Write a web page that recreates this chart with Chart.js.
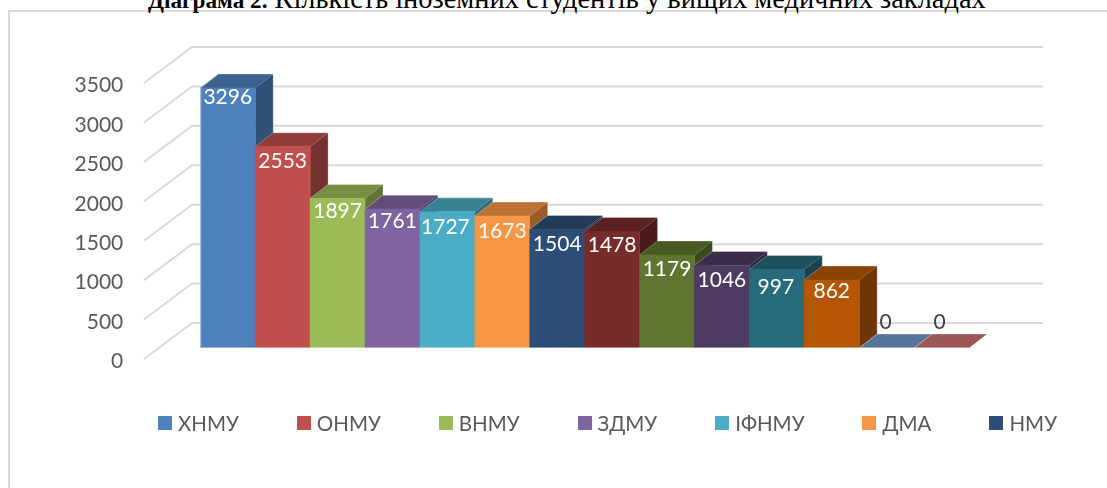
<!DOCTYPE html>
<html>
<head>
<meta charset="utf-8">
<title>Діаграма 2</title>
<script src="https://cdn.jsdelivr.net/npm/chart.js@4"></script>
<style>
  html, body { margin: 0; background: #fff; }
  body { position: relative; width: 1107px; height: 488px; overflow: hidden; }
  #frame { position: absolute; left: 8px; top: 10px; width: 1099px; height: 478px; border-left: 2px solid #d9d9d9; border-top: 2px solid #d9d9d9; box-sizing: border-box; }
  #caption { position: absolute; left: 148px; top: -17px; font: 28.4px "Liberation Serif", serif; color: #000; white-space: nowrap; }
  #caption b { font-size: 23.2px; }
  #chart { position: absolute; left: 0; top: 0; }
  #legend { position: absolute; left: 158px; top: 409px; display: flex; gap: 58px; font: 20.5px Lato, "Open Sans", sans-serif; color: #595959; line-height: 28px; white-space: nowrap; }
  #legend span { display: flex; align-items: center; }
  #legend i { display: block; width: 14px; height: 14px; margin-right: 6px; }
</style>
</head>
<body>
<div id="frame"></div>
<div id="caption"><b>Діаграма 2.</b> Кількість іноземних студентів у вищих медичних закладах</div>
<canvas id="chart" width="1107" height="488"></canvas>
<div id="legend"></div>
<script>
const categories = ['ХНМУ', 'ОНМУ', 'ВНМУ', 'ЗДМУ', 'ІФНМУ', 'ДМА', 'НМУ', '', '', '', '', '', '', ''];
const students = [3296, 2553, 1897, 1761, 1727, 1673, 1504, 1478, 1179, 1046, 997, 862, 0, 0];
const yTicks = [0, 500, 1000, 1500, 2000, 2500, 3000, 3500];
const colors = ['#4f81bd', '#c0504d', '#9bbb59', '#8064a2', '#4bacc6', '#f79646', '#2c4d75', '#772c2a', '#5f7530', '#4d3b62', '#276a7c', '#b65708', '#729aca', '#cd7371'];

// only the first 7 fit in the original legend
const legendCount = 7;

// 3d look: how far the bar depth and the back wall go from the front plane
const barDepth = { x: 18, y: -14 };
const wallFront = { x: 144, y: 11 };
const wallBack = { x: 192, y: -25 };
const wallRight = 1043;
const tickLabelDrop = 13.5;

// labels sit a bit unevenly in the original, px below the top of each bar (last two above it)
const labelDrop = [9.4, 15, 12.6, 12, 15, 15, 14.4, 13.6, 13.8, 14.6, 17.5, 11, -26, -26];
const labelShift = [0, 0, 0, 0, -2, 0, 0, 0, 0, 0, -1, 0, -1, -2];

const shade = (hex, k) => {
  const n = parseInt(hex.slice(1), 16);
  const r = Math.round((n >> 16) * k);
  const g = Math.round(((n >> 8) & 255) * k);
  const b = Math.round((n & 255) * k);
  return `rgb(${r},${g},${b})`;
};

const poly = (ctx, pts, fill) => {
  ctx.beginPath();
  pts.forEach((p, i) => i ? ctx.lineTo(p[0], p[1]) : ctx.moveTo(p[0], p[1]));
  ctx.closePath();
  ctx.fillStyle = fill;
  ctx.fill();
};

const wall3d = {
  id: 'wall3d',
  beforeDatasetsDraw(chart) {
    const ctx = chart.ctx;
    const y = chart.scales.y;
    ctx.save();
    ctx.strokeStyle = '#d9d9d9';
    ctx.lineWidth = 2;
    yTicks.forEach(v => {
      const py = y.getPixelForValue(v);
      ctx.beginPath();
      ctx.moveTo(wallFront.x, py + wallFront.y);
      ctx.lineTo(wallBack.x, py + wallBack.y);
      ctx.lineTo(wallRight, py + wallBack.y);
      ctx.stroke();
    });
    // side and top of the bars, fronts come from the bar dataset after this
    chart.getDatasetMeta(0).data.forEach((bar, i) => {
      const half = bar.width / 2;
      const l = bar.x - half, r = bar.x + half, t = bar.y, b = bar.base;
      const d = barDepth;
      if (b - t > 0) poly(ctx, [[r, t], [r + d.x, t + d.y], [r + d.x, b + d.y], [r, b]], shade(colors[i], 0.62));
      poly(ctx, [[l, t], [l + d.x, t + d.y], [r + d.x, t + d.y], [r, t]], shade(colors[i], 0.76));
      // pale rim round the back of the bar
      ctx.beginPath();
      ctx.moveTo(l, t);
      ctx.lineTo(l + d.x, t + d.y);
      ctx.lineTo(r + d.x, t + d.y);
      ctx.lineTo(r + d.x, (b - t > 0 ? b : t) + d.y);
      ctx.strokeStyle = 'rgba(255,255,255,0.3)';
      ctx.lineWidth = 1;
      ctx.stroke();
    });
    ctx.restore();
  }
};

const barLabels = {
  id: 'barLabels',
  afterDatasetsDraw(chart) {
    const ctx = chart.ctx;
    const bars = chart.getDatasetMeta(0).data;
    ctx.save();
    // pale rim along the foot of the row and the first bar
    ctx.strokeStyle = 'rgba(255,255,255,0.4)';
    ctx.lineWidth = 1;
    ctx.beginPath();
    ctx.moveTo(bars[0].x - bars[0].width / 2 + 0.5, bars[0].y);
    ctx.lineTo(bars[0].x - bars[0].width / 2 + 0.5, bars[0].base - 0.5);
    ctx.lineTo(bars[bars.length - 1].x + bars[0].width / 2, bars[0].base - 0.5);
    ctx.stroke();
    ctx.font = '21px Lato, "Open Sans", sans-serif';
    ctx.textAlign = 'center';
    ctx.textBaseline = 'middle';
    bars.forEach((bar, i) => {
      const v = students[i];
      ctx.fillStyle = v ? '#fff' : '#404040';
      ctx.fillText(v, bar.x + labelShift[i], bar.y + labelDrop[i]);
    });
    ctx.restore();
  }
};

new Chart(document.getElementById('chart'), {
  type: 'bar',
  data: {
    labels: categories,
    datasets: [{
      data: students,
      backgroundColor: colors,
      barPercentage: 1,
      categoryPercentage: 1
    }]
  },
  options: {
    responsive: false,
    animation: false,
    layout: { padding: { left: 0, top: 72, right: 138, bottom: 140 } },
    plugins: { legend: { display: false }, tooltip: { enabled: false } },
    scales: {
      x: { display: false },
      y: {
        min: 0,
        max: 3500,
        afterFit: s => { s.width = 200.3; s.paddingTop = 0; s.paddingBottom = 0; },
        afterBuildTicks: s => { s.ticks = yTicks.map(v => ({ value: v })); },
        grid: { display: false, drawTicks: false },
        border: { display: false },
        ticks: {
          padding: 77,
          labelOffset: tickLabelDrop,
          color: '#595959',
          font: { family: 'Lato, "Open Sans", sans-serif', size: 21 },
          callback: v => String(v)
        }
      }
    }
  },
  plugins: [wall3d, barLabels]
});

const legendEl = document.getElementById('legend');
categories.slice(0, legendCount).forEach((name, i) => {
  const item = document.createElement('span');
  const box = document.createElement('i');
  box.style.background = colors[i];
  item.append(box, name);
  legendEl.append(item);
});
</script>
</body>
</html>
